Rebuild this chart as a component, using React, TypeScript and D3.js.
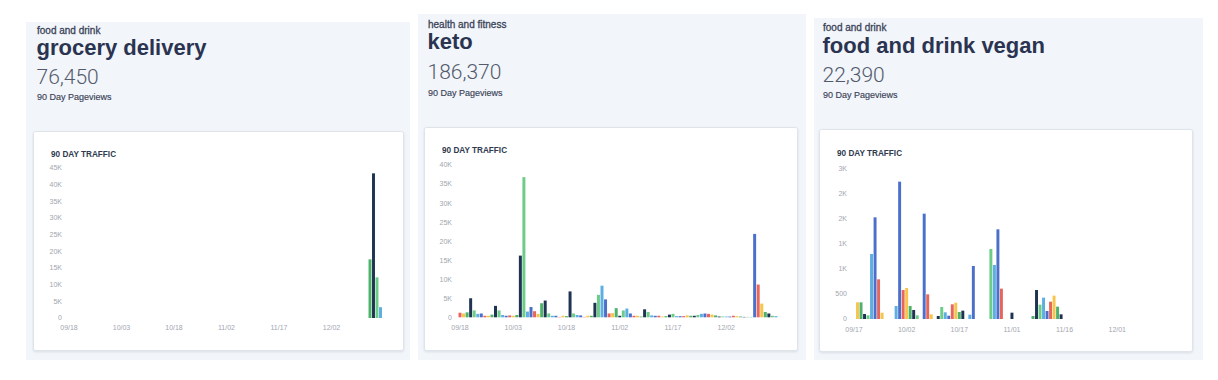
import React from "react";
import * as d3 from "d3";

// ---------- DATA ----------
const categories = ["food and drink", "health and fitness", "food and drink"];
const titles = ["grocery delivery", "keto", "food and drink vegan"];
const totals = ["76,450", "186,370", "22,390"];
const subLabel = "90 Day Pageviews";
const chartTitle = "90 DAY TRAFFIC";

const PALETTE = ["#e8655b", "#f7c44c", "#4fb26c", "#1f3452", "#6ccc88", "#5cafe0", "#4b6fcb"];

const groceryDates = ["09/18", "10/03", "10/18", "11/02", "11/17", "12/02"];
const groceryYTicks = [0, 5000, 10000, 15000, 20000, 25000, 30000, 35000, 40000, 45000];
const groceryYLabels = ["0", "5K", "10K", "15K", "20K", "25K", "30K", "35K", "40K", "45K"];
const groceryValues = [
  0, 0, 0, 0, 0, 0, 0, 0, 0, 0,
  0, 0, 0, 0, 0, 0, 0, 0, 0, 0,
  0, 0, 0, 0, 0, 0, 0, 0, 0, 0,
  0, 0, 0, 0, 0, 0, 0, 0, 0, 0,
  0, 0, 0, 0, 0, 0, 0, 0, 0, 0,
  0, 0, 0, 0, 0, 0, 0, 0, 0, 0,
  0, 0, 0, 0, 0, 0, 0, 0, 0, 0,
  0, 0, 0, 0, 0, 0, 0, 0, 0, 0,
  0, 0, 0, 0, 0, 0, 17600, 43400, 12200, 3250,
];

const ketoDates = ["09/18", "10/03", "10/18", "11/02", "11/17", "12/02"];
const ketoYTicks = [0, 5000, 10000, 15000, 20000, 25000, 30000, 35000, 40000];
const ketoYLabels = ["0", "5K", "10K", "15K", "20K", "25K", "30K", "35K", "40K"];
const ketoValues = [
  1200, 1000, 1300, 5000, 1800, 900, 1000, 400, 400, 700,
  3000, 1800, 600, 400, 500, 400, 600, 16200, 36800, 1500,
  2700, 1600, 900, 3700, 4400, 1000, 400, 400, 100, 400,
  300, 6800, 1000, 600, 500, 100, 400, 400, 3800, 5900,
  8300, 4700, 1000, 1100, 2400, 400, 1800, 2300, 1000, 400,
  400, 200, 2100, 1400, 500, 400, 400, 200, 300, 700,
  900, 300, 300, 300, 500, 400, 400, 600, 900, 1000,
  900, 700, 500, 200, 200, 200, 200, 400, 300, 200,
  100, 100, 100, 21900, 8600, 3600, 1400, 1000, 400, 300,
];

const veganDates = ["09/17", "10/02", "10/17", "11/01", "11/16", "12/01"];
const veganYTicks = [0, 500, 1000, 1500, 2000, 2500, 3000];
const veganYLabels = ["0", "500", "1K", "1K", "2K", "2K", "3K"];
const veganValues = [
  0, 332, 332, 100, 73, 1294, 2024, 790, 126, 0,
  0, 0, 259, 2734, 577, 617, 259, 179, 73, 0,
  2097, 491, 93, 0, 60, 239, 133, 66, 292, 325,
  139, 166, 0, 86, 1055, 0, 0, 0, 0, 1394,
  1075, 1785, 604, 0, 0, 126, 0, 0, 0, 0,
  0, 60, 577, 285, 425, 159, 345, 465, 246, 93,
  0, 0, 0, 0, 0, 0, 0, 0, 0, 0,
  0, 0, 0, 0, 0, 0, 0, 0, 0, 0,
  0, 0, 0, 0, 0, 0, 0, 0, 0, 0,
];

// ---------- LAYOUT ----------
const FONT = "'Liberation Sans', Arial, Helvetica, sans-serif";

type Layout = {
  bg: { x: number; y: number; w: number; h: number };
  card: { x: number; y: number; w: number; h: number };
  textX: number;
  baselines: number[];
  titleX: number;
  titleY: number;
  yLabelRight: number;
  yTop: number;
  yZero: number;
  x0: number;
  step: number;
  xLabelY: number;
};

const layouts: Layout[] = [
  {
    bg: { x: 26, y: 22, w: 384, h: 338 },
    card: { x: 33.5, y: 131.5, w: 370, h: 219 },
    textX: 37,
    baselines: [33.5, 55, 83.5, 99.5],
    titleX: 51,
    titleY: 157,
    yLabelRight: 62,
    yTop: 168,
    yZero: 318,
    x0: 69,
    step: 3.5,
    xLabelY: 330,
  },
  {
    bg: { x: 418, y: 14, w: 388, h: 346 },
    card: { x: 424.5, y: 127.5, w: 373, h: 223 },
    textX: 428,
    baselines: [27.5, 49, 78.5, 95.5],
    titleX: 442,
    titleY: 153,
    yLabelRight: 452,
    yTop: 165,
    yZero: 317.3,
    x0: 460,
    step: 3.55,
    xLabelY: 329.5,
  },
  {
    bg: { x: 814, y: 18, w: 389, h: 342 },
    card: { x: 819.5, y: 129.5, w: 373, h: 222 },
    textX: 823,
    baselines: [31, 53, 81.5, 97.5],
    titleX: 837,
    titleY: 155.7,
    yLabelRight: 847,
    yTop: 168.3,
    yZero: 319,
    x0: 854,
    step: 3.51,
    xLabelY: 331.5,
  },
];

type ChartData = {
  values: number[];
  dates: string[];
  yTicks: number[];
  yLabels: string[];
};

const charts: ChartData[] = [
  { values: groceryValues, dates: groceryDates, yTicks: groceryYTicks, yLabels: groceryYLabels },
  { values: ketoValues, dates: ketoDates, yTicks: ketoYTicks, yLabels: ketoYLabels },
  { values: veganValues, dates: veganDates, yTicks: veganYTicks, yLabels: veganYLabels },
];

function Panel({ i }: { i: number }) {
  const L = layouts[i];
  const C = charts[i];
  const n = C.values.length;
  const y = d3
    .scaleLinear()
    .domain([0, C.yTicks[C.yTicks.length - 1]])
    .range([L.yZero, L.yTop]);
  const x = d3
    .scaleLinear()
    .domain([0, n - 1])
    .range([L.x0, L.x0 + (n - 1) * L.step]);
  const bw = L.step * 0.84;
  const color = d3.scaleOrdinal<number, string>().domain(d3.range(7)).range(PALETTE);

  return (
    <g>
      <rect x={L.bg.x} y={L.bg.y} width={L.bg.w} height={L.bg.h} fill="#f2f5fa" />
      <text x={L.textX} y={L.baselines[0]} fontFamily={FONT} fontSize={10} fill="#3a4358" stroke="#3a4358" strokeWidth={0.3}>
        {categories[i]}
      </text>
      <text x={L.textX - 0.5} y={L.baselines[1]} fontFamily={FONT} fontSize={22} fontWeight="bold" fill="#2a3450">
        {titles[i]}
      </text>
      <text x={L.textX - 0.5} y={L.baselines[2]} fontFamily="Roboto, 'Liberation Sans', sans-serif" fontWeight={300} fontSize={21} fill="#535b6c">
        {totals[i]}
      </text>
      <text x={L.textX} y={L.baselines[3]} fontFamily={FONT} fontSize={9} fill="#3a4358" stroke="#3a4358" strokeWidth={0.15}>
        {subLabel}
      </text>

      <rect
        x={L.card.x}
        y={L.card.y}
        width={L.card.w}
        height={L.card.h}
        rx={2}
        fill="#ffffff"
        stroke="#dfe3ea"
        strokeWidth={1}
        filter="url(#cardShadow)"
      />
      <text x={L.titleX} y={L.titleY} fontFamily={FONT} fontSize={8.2} fontWeight="bold" fill="#2f3a4f">
        {chartTitle}
      </text>

      {C.yTicks.map((t, k) => (
        <text
          key={"yt" + k}
          x={L.yLabelRight}
          y={y(t)}
          dy="0.35em"
          textAnchor="end"
          fontFamily={FONT}
          fontSize={7}
          fill="#a2a6b0"
        >
          {C.yLabels[k]}
        </text>
      ))}

      {C.dates.map((d, k) => (
        <text
          key={"xt" + k}
          x={x(k * 15)}
          y={L.xLabelY}
          textAnchor="middle"
          fontFamily={FONT}
          fontSize={7}
          fill="#a2a6b0"
        >
          {d}
        </text>
      ))}

      {C.values.map((v, k) =>
        v > 0 ? (
          <rect
            key={"b" + k}
            x={x(k) - bw / 2}
            y={y(v)}
            width={bw}
            height={y(0) - y(v)}
            fill={color(k % 7)}
          />
        ) : null
      )}
    </g>
  );
}

export default function App() {
  return (
    <div style={{ position: "absolute", left: 0, top: 0, width: 1218, height: 380, background: "#ffffff" }}>
      <svg width={1218} height={380} viewBox="0 0 1218 380" style={{ display: "block" }}>
        <defs>
          <filter id="cardShadow" x="-5%" y="-5%" width="110%" height="115%">
            <feDropShadow dx="0" dy="1" stdDeviation="1" floodColor="#8a94a6" floodOpacity="0.25" />
          </filter>
        </defs>
        <rect width={1218} height={380} fill="#ffffff" />
        {[0, 1, 2].map((i) => (
          <Panel key={i} i={i} />
        ))}
      </svg>
    </div>
  );
}
